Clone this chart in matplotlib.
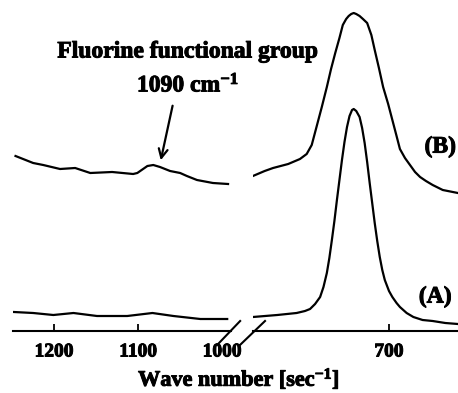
import matplotlib
matplotlib.use("Agg")
import matplotlib.pyplot as plt
import matplotlib.patheffects as pe

plt.rcParams['font.family'] = ['Liberation Serif', 'DejaVu Serif']
plt.rcParams['font.weight'] = 'bold'
plt.rcParams['mathtext.fontset'] = 'custom'
plt.rcParams['mathtext.rm'] = 'Liberation Serif:bold'
plt.rcParams['mathtext.it'] = 'Liberation Serif:bold'
plt.rcParams['mathtext.bf'] = 'Liberation Serif:bold'
plt.rcParams['mathtext.default'] = 'rm'

# ---- data (wavenumber in cm^-1, intensity in arbitrary units) ----
left_B_x = [1246, 1225, 1213, 1193, 1175, 1157, 1131, 1106, 1101, 1089, 1082, 1074,
            1062, 1050, 1042, 1030, 1011, 993]
left_B_y = [1.75, 1.68, 1.66, 1.62, 1.63, 1.58, 1.59, 1.57, 1.58, 1.65, 1.66, 1.64,
            1.60, 1.58, 1.55, 1.51, 1.48, 1.47]

left_A_x = [1248, 1225, 1201, 1177, 1149, 1113, 1083, 1058, 1026, 994]
left_A_y = [0.19, 0.18, 0.16, 0.18, 0.15, 0.15, 0.18, 0.15, 0.12, 0.12]

right_B_x = [862, 848, 838, 820, 806, 798, 792, 786, 780, 774, 769, 764, 759, 755,
             751, 748, 745, 742, 739, 735, 731, 726, 721, 717, 712, 707, 701, 696,
             691, 687, 681, 675, 669, 663, 656, 648, 636, 618]
right_B_y = [1.55, 1.60, 1.63, 1.67, 1.72, 1.77, 1.86, 2.05, 2.24, 2.44, 2.62, 2.78,
             2.93, 3.06, 3.12, 3.15, 3.17, 3.18, 3.17, 3.15, 3.12, 3.08, 2.96, 2.81,
             2.63, 2.44, 2.27, 2.11, 1.95, 1.82, 1.73, 1.66, 1.59, 1.54, 1.50, 1.46,
             1.41, 1.38]

right_A_x = [862, 833, 810, 800, 794, 788, 782, 778, 774, 771, 768, 765, 762, 759,
             756, 753, 750, 747, 744, 742, 739, 735, 732, 729, 726, 723, 720, 717,
             714, 711, 708, 705, 700, 696, 691, 687, 679, 671, 660, 648, 633, 618]
right_A_y = [0.14, 0.16, 0.18, 0.20, 0.22, 0.27, 0.34, 0.44, 0.58, 0.73, 0.91, 1.10,
             1.31, 1.51, 1.71, 1.89, 2.04, 2.15, 2.21, 2.22, 2.20, 2.14, 2.03, 1.88,
             1.69, 1.48, 1.28, 1.08, 0.90, 0.74, 0.61, 0.51, 0.40, 0.34, 0.28, 0.24,
             0.18, 0.14, 0.11, 0.10, 0.08, 0.07]

left_ticks = [1200, 1100, 1000]
left_tick_labels = ['1200', '1100', '1000']
right_ticks = [700]
right_tick_labels = ['700']

# ---- figure ----
W, H = 458, 393
fig = plt.figure(figsize=(W / 100, H / 100), dpi=100)
scale = 0.84  # px per cm^-1
ax1_xlim = (1249, 990)
ax2_xlim = (862, 617.5)
ymax = 3.31
bottom = 62 / H
height = 331 / H
ax1 = fig.add_axes([13 / W, bottom, (ax1_xlim[0] - ax1_xlim[1]) * scale / W, height])
ax2 = fig.add_axes([(389 - (ax2_xlim[0] - 700) * scale) / W, bottom,
                    (ax2_xlim[0] - ax2_xlim[1]) * scale / W, height])

lw = 1.6
for ax, xs, ys in ((ax1, left_B_x, left_B_y), (ax1, left_A_x, left_A_y),
                   (ax2, right_B_x, right_B_y), (ax2, right_A_x, right_A_y)):
    ax.plot(xs, ys, color='black', lw=lw, solid_joinstyle='round')

heavy = [pe.withStroke(linewidth=0.7, foreground='black')]

for ax, xl in ((ax1, ax1_xlim), (ax2, ax2_xlim)):
    ax.set_xlim(*xl)
    ax.set_ylim(0, ymax)
    for s in ('left', 'right', 'top'):
        ax.spines[s].set_visible(False)
    ax.spines['bottom'].set_linewidth(1.5)
    ax.set_yticks([])
    ax.patch.set_visible(False)
    ax.tick_params(axis='x', direction='in', length=5, width=1.3, pad=9,
                   labelsize=14)

ax1.set_xticks(left_ticks)
ax1.set_xticklabels(left_tick_labels, fontweight='bold')
ax1.xaxis.get_major_ticks()[2].tick1line.set_visible(False)
ax2.set_xticks(right_ticks)
ax2.set_xticklabels(right_tick_labels, fontweight='bold')
for lab in ax1.get_xticklabels() + ax2.get_xticklabels():
    lab.set_path_effects(heavy)

# break marks
ax1.plot([1006, 978.6], [-0.14, 0.10], color='black', lw=1.5, clip_on=False)
ax2.plot([877.4, 847.6], [-0.14, 0.10], color='black', lw=1.5, clip_on=False)

# annotations
ax1.text(1040.5, 2.79, 'Fluorine functional group', ha='center', va='center',
         fontsize=17, fontweight='bold', path_effects=heavy)
ax1.text(1040.5, 2.46, '1090 cm$^{-1}$', ha='center', va='center',
         fontsize=17, fontweight='bold', path_effects=heavy)
ax1.annotate('', xy=(1073.8, 1.68), xytext=(1058.3, 2.28),
             arrowprops=dict(arrowstyle='->', lw=1.6, color='black',
                             mutation_scale=16))
ax2.text(639, 1.84, '(B)', ha='center', va='center', fontsize=17,
         fontweight='bold', path_effects=heavy)
ax2.text(645, 0.34, '(A)', ha='center', va='center', fontsize=17,
         fontweight='bold', path_effects=heavy)

fig.text(239 / W, 1 - 379 / H, 'Wave number [sec$^{-1}$]', ha='center', va='center',
         fontsize=16, fontweight='bold', path_effects=heavy)

fig.savefig('out.png', dpi=100)
